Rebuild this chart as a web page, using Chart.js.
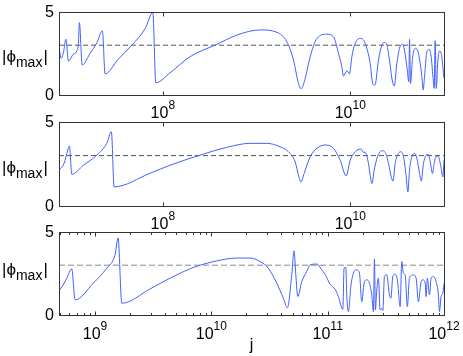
<!DOCTYPE html>
<html>
<head>
<meta charset="utf-8">
<script src="https://cdn.jsdelivr.net/npm/chart.js@4.4.0/dist/chart.umd.min.js"></script>
<style>
	body { margin: 0; background: #fff; }
	#wrap { position: relative; width: 463px; height: 356px; }
	canvas { position: absolute; left: 0; top: 0; }
</style>
</head>
<body>
<div id="wrap">
	<canvas id="top" width="463" height="356"></canvas>
	<canvas id="mid" width="463" height="356"></canvas>
	<canvas id="bot" width="463" height="356"></canvas>
</div>
<script>
// log10(j) and |phi_max|
const topLogJ = [
	6.892, 6.915, 6.941, 6.965, 6.993, 7.043, 7.082, 7.099, 7.110, 7.139,
	7.224, 7.296, 7.355, 7.384, 7.523, 7.669, 7.811, 7.893, 7.925, 8.078,
	8.291, 8.576, 8.790, 9.038, 9.217, 9.323, 9.394, 9.447, 9.476, 9.519,
	9.572, 9.644, 9.750, 9.821, 9.874, 9.910, 9.927, 9.964, 9.991, 10.017,
	10.052, 10.113, 10.159, 10.212, 10.241, 10.263, 10.301, 10.337, 10.362, 10.391,
	10.418, 10.447, 10.469, 10.497, 10.533, 10.557, 10.578, 10.604, 10.625, 10.632,
	10.643, 10.664, 10.693, 10.717, 10.746, 10.764, 10.778, 10.792, 10.818, 10.842,
	10.863, 10.882, 10.895, 10.906, 10.917, 10.935, 10.952, 10.970, 10.988, 11.0
];
const topPhi = [
	2.91, 2.21, 2.60, 3.36, 2.05, 2.45, 2.65, 3.11, 4.36, 1.81,
	2.51, 3.15, 3.87, 1.27, 2.15, 3.00, 4.00, 4.96, 0.74, 1.34,
	2.31, 3.05, 3.61, 3.92, 3.78, 3.21, 2.11, 0.70, 0.38, 1.00,
	2.30, 3.41, 3.66, 3.51, 2.51, 1.70, 1.14, 1.46, 1.27, 2.31,
	3.11, 3.41, 3.11, 1.91, 0.66, 0.60, 2.11, 3.01, 3.17, 3.01,
	2.11, 0.90, 0.54, 1.91, 2.95, 3.05, 2.71, 1.70, 0.80, 3.35,
	0.70, 2.21, 2.81, 2.71, 1.91, 1.10, 0.30, 1.10, 2.61, 2.75,
	2.31, 1.10, 0.40, 3.27, 0.40, 2.11, 2.65, 2.51, 1.70, 1.00
];

const midLogJ = [
	6.892, 6.947, 6.986, 7.003, 7.029, 7.153, 7.296, 7.402, 7.451, 7.480,
	7.864, 8.078, 8.398, 8.683, 8.932, 9.110, 9.252, 9.340, 9.412, 9.447,
	9.473, 9.508, 9.572, 9.644, 9.732, 9.821, 9.892, 9.956, 9.999, 10.052,
	10.113, 10.138, 10.159, 10.194, 10.212, 10.231, 10.255, 10.290, 10.337, 10.373,
	10.408, 10.437, 10.455, 10.479, 10.514, 10.540, 10.568, 10.593, 10.615, 10.632,
	10.657, 10.685, 10.711, 10.739, 10.757, 10.781, 10.810, 10.835, 10.853, 10.877,
	10.895, 10.917, 10.941, 10.967, 10.988, 11.0
];
const midPhi = [
	2.13, 2.55, 3.33, 3.57, 1.89, 2.43, 3.03, 3.73, 4.42, 1.14,
	1.95, 2.43, 3.03, 3.49, 3.73, 3.73, 3.52, 3.23, 2.63, 1.83,
	1.43, 1.94, 2.93, 3.43, 3.63, 3.43, 2.73, 1.79, 2.73, 3.23,
	3.39, 3.20, 3.20, 2.53, 1.83, 1.34, 2.13, 2.93, 3.29, 3.19,
	2.53, 1.73, 1.48, 2.53, 3.13, 3.23, 2.93, 1.94, 0.84, 2.13,
	2.93, 3.13, 2.83, 1.94, 1.48, 2.53, 3.03, 3.07, 2.63, 1.94,
	2.53, 2.97, 2.93, 2.33, 1.73, 2.73
];

const botLogJ = [
	8.690, 8.725, 8.757, 8.800, 8.828, 8.985, 9.101, 9.172, 9.198, 9.230,
	9.473, 9.645, 9.845, 10.046, 10.218, 10.333, 10.419, 10.490, 10.562, 10.619,
	10.654, 10.691, 10.711, 10.726, 10.743, 10.777, 10.820, 10.849, 10.906, 10.949,
	10.978, 11.021, 11.064, 11.092, 11.130, 11.141, 11.156, 11.164, 11.178, 11.199,
	11.221, 11.250, 11.273, 11.293, 11.313, 11.336, 11.359, 11.379, 11.393, 11.402,
	11.410, 11.422, 11.436, 11.451, 11.465, 11.474, 11.488, 11.508, 11.531, 11.543,
	11.560, 11.580, 11.599, 11.623, 11.637, 11.651, 11.666, 11.685, 11.703, 11.737,
	11.760, 11.780, 11.801, 11.818, 11.838, 11.846, 11.857, 11.875, 11.889, 11.909,
	11.932, 11.952, 11.961, 11.975, 11.990, 12.0
];
const botPhi = [
	1.47, 1.80, 2.22, 2.78, 0.91, 1.92, 2.82, 3.63, 4.64, 0.71,
	1.57, 2.22, 2.86, 3.26, 3.43, 3.43, 3.22, 2.82, 1.92, 1.01,
	0.44, 2.42, 3.87, 2.42, 1.11, 2.01, 2.62, 3.02, 3.07, 2.72,
	2.45, 1.85, 1.55, 1.11, 0.34, 2.82, 2.86, 1.21, 0.20, 1.71,
	2.52, 2.72, 2.52, 0.80, 1.92, 2.12, 1.92, 1.21, 0.20, 3.37,
	0.30, 1.51, 2.22, 0.30, 0.40, 0.26, 2.32, 2.42, 1.21, 1.01,
	2.32, 2.46, 2.12, 0.50, 3.22, 2.52, 2.42, 0.50, 2.22, 2.42,
	2.22, 0.80, 1.92, 2.12, 1.92, 1.11, 2.22, 1.21, 2.22, 2.32,
	2.01, 1.21, 0.20, 1.11, 1.31, 1.90
];

const threshold = 3;
const yTicks = [0, 5];
const topMajor = [8, 10];
const botMajor = [9, 10, 11, 12];

const FONT = '"Liberation Sans", Arial, sans-serif';

function toPoints(logJ, phi) {
	return logJ.map((e, i) => ({x: 10 ** e, y: phi[i]}));
}

function drawPow(ctx, x, baseY, exp) {
	ctx.font = "16px " + FONT;
	const w1 = ctx.measureText("10").width;
	ctx.font = "12px " + FONT;
	const w2 = ctx.measureText(exp).width;
	const start = x - (w1 + w2) / 2;
	ctx.textAlign = "left";
	ctx.textBaseline = "alphabetic";
	ctx.font = "16px " + FONT;
	ctx.fillText("10", start, baseY);
	ctx.font = "12px " + FONT;
	ctx.fillText(exp, start + w1, baseY - 9.5);
}

function framePlugin(cfg) {
	return {
		id: "frame",
		afterDraw(chart) {
			const ctx = chart.ctx;
			const a = chart.chartArea;
			const xs = chart.scales.x;
			const ys = chart.scales.y;
			const l = Math.round(a.left) + 0.5, r = Math.round(a.right) + 0.5;
			const t = Math.round(a.top) + 0.5, b = Math.round(a.bottom) + 0.5;
			ctx.save();
			ctx.strokeStyle = "#333";
			ctx.lineWidth = 1;
			ctx.strokeRect(l, t, r - l, b - t);

			// inward ticks, top and bottom
			ctx.beginPath();
			for (const tk of cfg.ticks) {
				const px = Math.round(xs.getPixelForValue(tk.v)) + 0.5;
				ctx.moveTo(px, b); ctx.lineTo(px, b - tk.len);
				ctx.moveTo(px, t); ctx.lineTo(px, t + tk.len);
			}
			ctx.stroke();

			ctx.fillStyle = "#000";
			ctx.font = "16px " + FONT;
			ctx.textAlign = "right";
			ctx.textBaseline = "middle";
			for (const v of yTicks) {
				ctx.fillText(String(v), a.left - 5, ys.getPixelForValue(v) + 1);
			}

			for (const e of cfg.labels) {
				drawPow(ctx, xs.getPixelForValue(10 ** e), a.bottom + cfg.labelDrop, String(e));
			}

			// y label |phi_max|
			const mid = (a.top + a.bottom) / 2 + cfg.ylabOffset;
			ctx.textAlign = "left";
			ctx.textBaseline = "alphabetic";
			let x = 2;
			ctx.font = "17px " + FONT;
			ctx.fillText("|ϕ", x, mid);
			x += ctx.measureText("|ϕ").width;
			ctx.font = "14px " + FONT;
			ctx.fillText("max", x, mid + 5);
			x += ctx.measureText("max").width + 1;
			ctx.font = "17px " + FONT;
			ctx.fillText("|", x, mid);

			if (cfg.xlabel) {
				ctx.font = "16px " + FONT;
				ctx.textAlign = "center";
				ctx.fillText(cfg.xlabel, (a.left + a.right) / 2, 349.5);
			}
			ctx.restore();
		}
	};
}

function makePanel(id, logJ, phi, cfg) {
	const xmin = 10 ** cfg.range[0], xmax = 10 ** cfg.range[1];
	return new Chart(document.getElementById(id), {
		type: "line",
		data: {
			datasets: [{
				data: toPoints(logJ, phi),
				borderColor: "rgb(64,96,255)",
				borderWidth: 1,
				pointRadius: 0,
				cubicInterpolationMode: "monotone"
			}, {
				data: [{x: xmin, y: threshold}, {x: xmax, y: threshold}],
				borderColor: cfg.dashColor,
				borderWidth: 1,
				borderDash: cfg.dash,
				pointRadius: 0
			}]
		},
		options: {
			responsive: false,
			animation: false,
			devicePixelRatio: 1,
			events: [],
			layout: {padding: cfg.padding},
			plugins: {legend: {display: false}, tooltip: {enabled: false}},
			scales: {
				x: {type: "logarithmic", min: xmin, max: xmax, display: false},
				y: {type: "linear", min: 0, max: 5, display: false}
			}
		},
		plugins: [framePlugin(cfg)]
	});
}

const topTicks = topMajor.map(e => ({v: 10 ** e, len: 4}));
const botTicks = [];
for (let e = 8; e <= 11; e++) {
	for (let m = 2; m <= 9; m++) {
		const v = m * 10 ** e;
		if (v > 10 ** 8.69) botTicks.push({v: v, len: 2.5});
	}
}
botMajor.forEach(e => botTicks.push({v: 10 ** e, len: 4}));

makePanel("top", topLogJ, topPhi, {
	range: [6.892, 11], padding: {left: 59, right: 19, top: 12, bottom: 261},
	ticks: topTicks, labels: topMajor, labelDrop: 23, ylabOffset: 8.5,
	dash: [5, 3], dashColor: "#555"
});
makePanel("mid", midLogJ, midPhi, {
	range: [6.892, 11], padding: {left: 59, right: 19, top: 122, bottom: 150},
	ticks: topTicks, labels: topMajor, labelDrop: 23, ylabOffset: 8.5,
	dash: [5, 3], dashColor: "#555"
});
makePanel("bot", botLogJ, botPhi, {
	range: [8.69, 12], padding: {left: 59, right: 19, top: 232, bottom: 41},
	ticks: botTicks, labels: botMajor, labelDrop: 24, ylabOffset: 1,
	dash: [6, 3], dashColor: "#888", xlabel: "j"
});
</script>
</body>
</html>
